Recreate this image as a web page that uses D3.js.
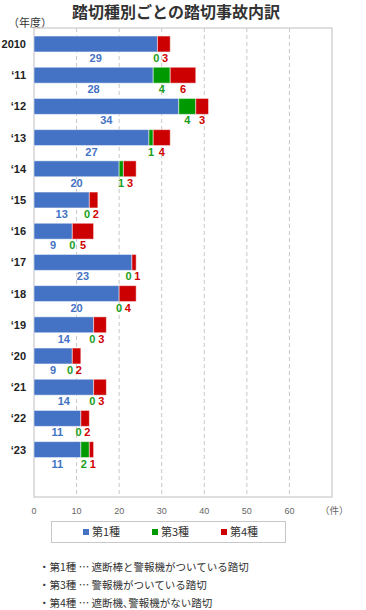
<!DOCTYPE html>
<html>
<head>
<meta charset="utf-8">
<script src="https://cdn.jsdelivr.net/npm/d3@7"></script>
<style>
  body { margin: 0; background: #fff; }
  text { font-family: "Noto Sans CJK JP", sans-serif; }
  .num { font-family: "Liberation Sans", Arial, sans-serif; }
</style>
</head>
<body>
<div id="chart"></div>
<script>
// Chart data.
const years = ["2010", "\u201811", "\u201812", "\u201813", "\u201814", "\u201815", "\u201816",
  "\u201817", "\u201818", "\u201819", "\u201820", "\u201821", "\u201822", "\u201823"];
const type1 = [29, 28, 34, 27, 20, 13, 9, 23, 20, 14, 9, 14, 11, 11];
const type3 = [0, 4, 4, 1, 1, 0, 0, 0, 0, 0, 0, 0, 0, 2];
const type4 = [3, 6, 3, 4, 3, 2, 5, 1, 4, 3, 2, 3, 2, 1];
const seriesNames = ["第1種", "第3種", "第4種"];
const xTicks = [0, 10, 20, 30, 40, 50, 60];
const notes = [
  "・第1種 … 遮断棒と警報機がついている踏切",
  "・第3種 … 警報機がついている踏切",
  "・第4種 … 遮断機､警報機がない踏切"
];

const width = 366;
const height = 610;
const plot = { left: 34, right: 332, top: 28, bottom: 497 };
const barColors = ["#4472c4", "#009900", "#cc0000"];
const labelColors = ["#4472c4", "#1a9e1a", "#d00000"];

const svg = d3.select("#chart")
  .append("svg")
  .attr("width", width)
  .attr("height", height);

// Title.
svg.append("text")
  .attr("x", 176)
  .attr("y", 18)
  .attr("text-anchor", "middle")
  .attr("font-size", 16)
  .attr("font-weight", "bold")
  .attr("fill", "#333")
  .text("踏切種別ごとの踏切事故内訳");

svg.append("text")
  .attr("x", 8)
  .attr("y", 27)
  .attr("font-size", 11)
  .attr("fill", "#333")
  .text("（年度）");

// Scales.
const x = d3.scaleLinear()
  .domain([0, 70])
  .range([plot.left, plot.right]);

const y = d3.scaleBand()
  .domain(years)
  .range([plot.top + 0.4, plot.top + 0.4 + 31.2 * years.length])
  .paddingInner(0.49)
  .paddingOuter(0.245);

// Gridlines.
svg.append("g")
  .selectAll("line")
  .data(xTicks.slice(1))
  .enter()
  .append("line")
  .attr("x1", d => x(d))
  .attr("x2", d => x(d))
  .attr("y1", plot.top)
  .attr("y2", plot.bottom)
  .attr("stroke", "#c8c8c8")
  .attr("stroke-dasharray", "4,3");

// Plot frame.
svg.append("rect")
  .attr("x", plot.left)
  .attr("y", plot.top)
  .attr("width", plot.right - plot.left)
  .attr("height", plot.bottom - plot.top)
  .attr("fill", "none")
  .attr("stroke", "#d4d4d4")
  .attr("stroke-width", 1.5);

// Stack the three series.
const rows = years.map((yr, i) => ({ year: yr, vals: [type1[i], type3[i], type4[i]] }));
rows.forEach(r => {
  let acc = 0;
  r.segs = r.vals.map((v, k) => {
    const s = { k: k, v: v, x0: acc, x1: acc + v };
    acc += v;
    return s;
  });
});

const rowG = svg.append("g")
  .selectAll("g")
  .data(rows)
  .enter()
  .append("g");

rowG.selectAll("rect")
  .data(r => r.segs.filter(s => s.v > 0).map(s => Object.assign({ year: r.year }, s)))
  .enter()
  .append("rect")
  .attr("x", d => x(d.x0))
  .attr("y", d => y(d.year))
  .attr("width", d => x(d.x1) - x(d.x0))
  .attr("height", y.bandwidth())
  .attr("fill", d => barColors[d.k])
  .attr("stroke", "#ffffff")
  .attr("stroke-opacity", 0.5)
  .attr("stroke-width", 1);

// Value labels under the bars, nudged apart when they crowd.
rows.forEach(r => {
  const pos = r.segs.map(s => (x(s.x0) + x(s.x1)) / 2);
  for (let pass = 0; pass < 4; pass++) {
    for (let i = 0; i < pos.length - 1; i++) {
      const w = (String(r.vals[i]).length + String(r.vals[i + 1]).length) * 3.2 + 2.5;
      const gap = pos[i + 1] - pos[i];
      if (gap < w) {
        const shift = (w - gap) / 2;
        pos[i] -= shift;
        pos[i + 1] += shift;
      }
    }
  }
  r.labelPos = pos;
});

rowG.selectAll("text.val")
  .data(r => r.segs.map((s, k) => ({ year: r.year, k: k, v: s.v, px: r.labelPos[k] })))
  .enter()
  .append("text")
  .attr("class", "val num")
  .attr("x", d => d.px)
  .attr("y", d => y(d.year) + y.bandwidth() + 10)
  .attr("text-anchor", "middle")
  .attr("font-size", 11)
  .attr("font-weight", "bold")
  .attr("fill", d => labelColors[d.k])
  .text(d => d.v);

// Year labels.
svg.append("g")
  .selectAll("text")
  .data(years)
  .enter()
  .append("text")
  .attr("class", "num")
  .attr("x", 26)
  .attr("y", d => y(d) + y.bandwidth() / 2 + 4)
  .attr("text-anchor", "end")
  .attr("font-size", 11)
  .attr("font-weight", "bold")
  .attr("fill", "#222")
  .text(d => d);

// X axis tick labels.
svg.append("g")
  .selectAll("text")
  .data(xTicks)
  .enter()
  .append("text")
  .attr("class", "num")
  .attr("x", d => x(d))
  .attr("y", 514)
  .attr("text-anchor", "middle")
  .attr("font-size", 9)
  .attr("fill", "#666")
  .text(d => d);

svg.append("text")
  .attr("x", 320)
  .attr("y", 514)
  .attr("font-size", 9.5)
  .attr("fill", "#666")
  .text("（件）");

// Legend.
svg.append("rect")
  .attr("x", 51.5)
  .attr("y", 521.5)
  .attr("width", 234)
  .attr("height", 21)
  .attr("fill", "none")
  .attr("stroke", "#c8c8c8");

const legendX = [83, 152, 221];
const legend = svg.append("g")
  .selectAll("g")
  .data(seriesNames)
  .enter()
  .append("g")
  .attr("transform", (d, i) => "translate(" + legendX[i] + ",532)");

legend.append("rect")
  .attr("x", 0)
  .attr("y", -3)
  .attr("width", 6)
  .attr("height", 6)
  .attr("fill", (d, i) => barColors[i]);

legend.append("text")
  .attr("x", 9)
  .attr("y", 4)
  .attr("font-size", 11)
  .attr("fill", "#333")
  .text(d => d);

// Notes.
svg.append("g")
  .selectAll("text")
  .data(notes)
  .enter()
  .append("text")
  .attr("x", 39)
  .attr("y", (d, i) => 571 + i * 18)
  .attr("font-size", 10.5)
  .attr("fill", "#333")
  .text(d => d);
</script>
</body>
</html>
